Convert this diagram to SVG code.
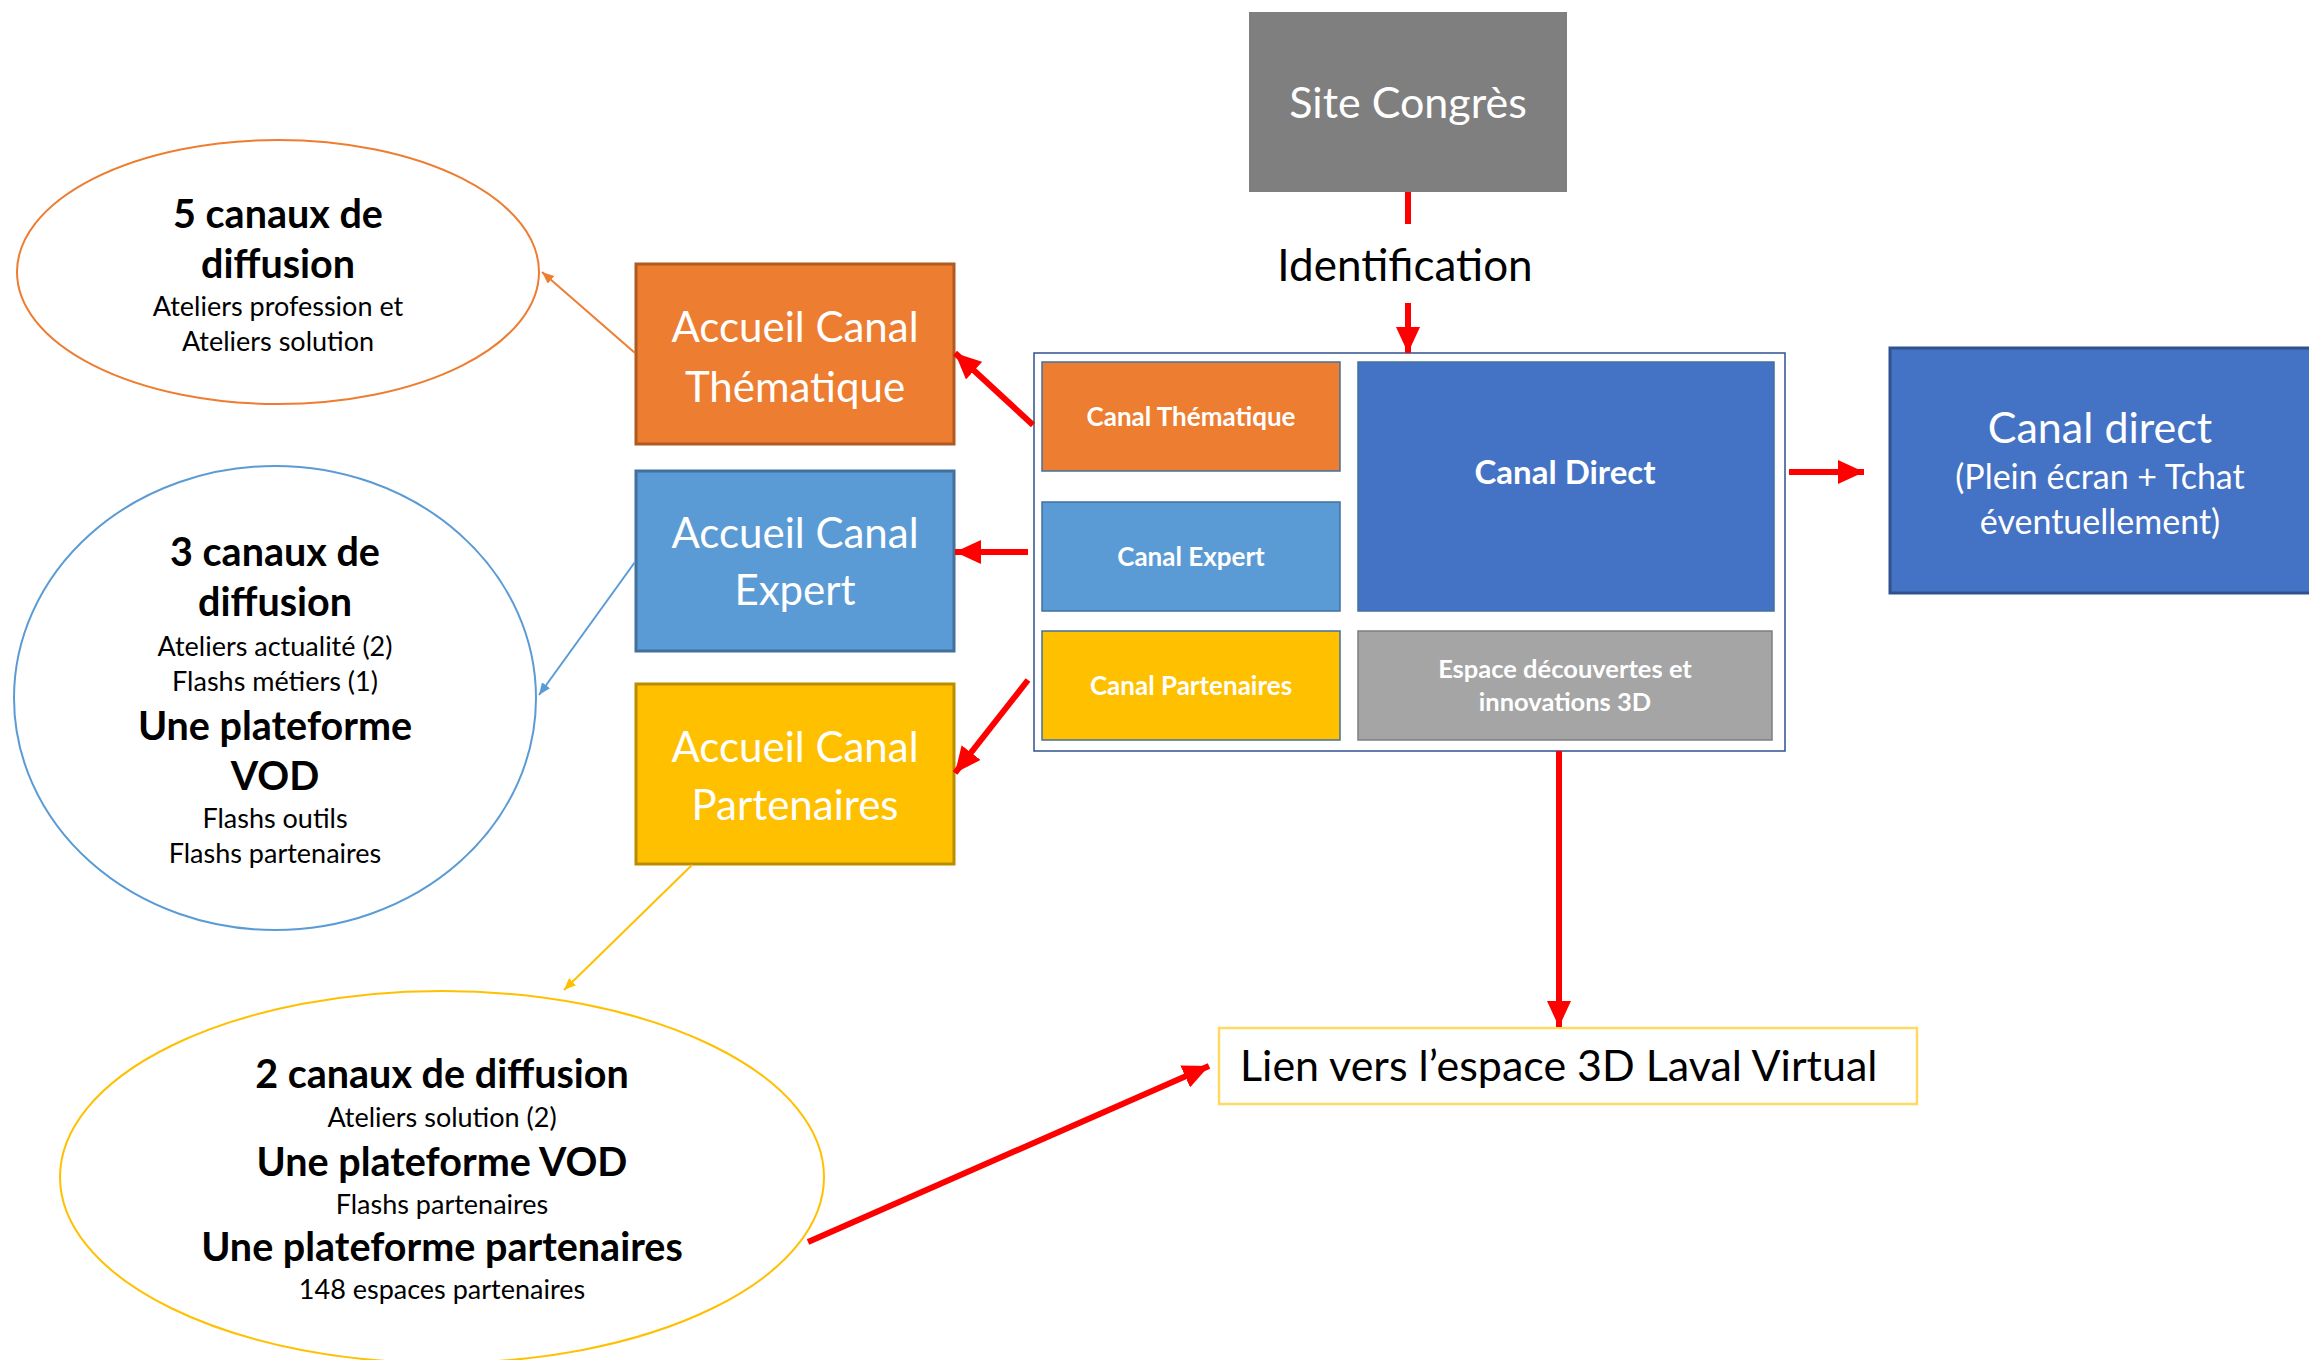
<svg xmlns="http://www.w3.org/2000/svg" width="2309" height="1360" viewBox="0 0 2309 1360">
<style>
.lt{font-family:Lato,"Open Sans","Liberation Sans",sans-serif;font-weight:400;fill:#fff;text-anchor:middle}
.bd{font-family:Lato,"Open Sans","Liberation Sans",sans-serif;font-weight:700;fill:#fff;text-anchor:middle}
.bk{font-family:Lato,"Open Sans","Liberation Sans",sans-serif;font-weight:700;fill:#000;text-anchor:middle;font-size:39.5px}
.sm{font-family:Lato,"Open Sans","Liberation Sans",sans-serif;font-weight:400;fill:#000;text-anchor:middle;font-size:27px}
.red{stroke:#ff0000;stroke-width:6;fill:none}
.inner{stroke:#41719c;stroke-width:1.5}
</style>
<defs>
<marker id="ah" markerUnits="userSpaceOnUse" markerWidth="26" markerHeight="24" refX="26" refY="12" orient="auto">
<path d="M0,0 L26,12 L0,24 z" fill="#ff0000"/>
</marker>
<marker id="aho" markerUnits="userSpaceOnUse" markerWidth="12" markerHeight="10" refX="12" refY="5" orient="auto">
<path d="M0,0 L12,5 L0,10 z" fill="#ed7d31"/>
</marker>
<marker id="ahb" markerUnits="userSpaceOnUse" markerWidth="12" markerHeight="10" refX="12" refY="5" orient="auto">
<path d="M0,0 L12,5 L0,10 z" fill="#5b9bd5"/>
</marker>
<marker id="ahy" markerUnits="userSpaceOnUse" markerWidth="12" markerHeight="10" refX="12" refY="5" orient="auto">
<path d="M0,0 L12,5 L0,10 z" fill="#ffc000"/>
</marker>
</defs>
<rect width="2309" height="1360" fill="#fff"/>

<g id="site-congres">
<rect x="1249" y="12" width="318" height="180" fill="#7f7f7f"/>
<text class="lt" x="1408" y="118" font-size="43">Site Congrès</text>
</g>

<g id="identification">
<text x="1405" y="281" font-size="44" font-family="Lato,'Open Sans','Liberation Sans',sans-serif" font-weight="400" text-anchor="middle" fill="#000">Identification</text>
</g>

<g id="container">
<rect x="1034" y="353" width="751" height="398" fill="#fff" stroke="#2f528f" stroke-width="1.5"/>
</g>

<g id="canal-thematique">
<rect class="inner" x="1042" y="362" width="298" height="109" fill="#ed7d31"/>
<text class="bd" x="1191" y="426" font-size="26">Canal Thématique</text>
</g>
<g id="canal-expert">
<rect class="inner" x="1042" y="502" width="298" height="109" fill="#5b9bd5"/>
<text class="bd" x="1191" y="566" font-size="26">Canal Expert</text>
</g>
<g id="canal-partenaires">
<rect class="inner" x="1042" y="631" width="298" height="109" fill="#ffc000"/>
<text class="bd" x="1191" y="695" font-size="26">Canal Partenaires</text>
</g>
<g id="canal-direct-inner">
<rect class="inner" x="1358" y="362" width="416" height="249" fill="#4472c4"/>
<text class="bd" x="1565" y="484" font-size="33">Canal Direct</text>
</g>
<g id="espace-decouvertes">
<rect x="1358" y="631" width="414" height="109" fill="#a5a5a5" stroke="#7f7f7f" stroke-width="1.5"/>
<text class="bd" x="1565" y="678" font-size="25.5">Espace découvertes et</text>
<text class="bd" x="1565" y="711" font-size="25.5">innovations 3D</text>
</g>

<g id="canal-direct">
<rect x="1890" y="348" width="440" height="245" fill="#4472c4" stroke="#2f528f" stroke-width="3"/>
<text class="lt" x="2100" y="443" font-size="43">Canal direct</text>
<text class="lt" x="2100" y="489" font-size="34">(Plein écran + Tchat</text>
<text class="lt" x="2100" y="534" font-size="34">éventuellement)</text>
</g>

<g id="accueil-thematique">
<rect x="636" y="264" width="318" height="180" fill="#ed7d31" stroke="#ae5a21" stroke-width="3"/>
<text class="lt" x="795" y="342" font-size="42">Accueil Canal</text>
<text class="lt" x="795" y="402" font-size="42">Thématique</text>
</g>
<g id="accueil-expert">
<rect x="636" y="471" width="318" height="180" fill="#5b9bd5" stroke="#41719c" stroke-width="3"/>
<text class="lt" x="795" y="548" font-size="42">Accueil Canal</text>
<text class="lt" x="795" y="605" font-size="42">Expert</text>
</g>
<g id="accueil-partenaires">
<rect x="636" y="684" width="318" height="180" fill="#ffc000" stroke="#bc8c00" stroke-width="3"/>
<text class="lt" x="795" y="762" font-size="42">Accueil Canal</text>
<text class="lt" x="795" y="820" font-size="42">Partenaires</text>
</g>

<g id="lien-3d">
<rect x="1219" y="1028" width="698" height="76" fill="#fff" stroke="#ffd966" stroke-width="2.5"/>
<text x="1240" y="1081" font-size="43" font-family="Lato,'Open Sans','Liberation Sans',sans-serif" font-weight="400" fill="#000">Lien vers l’espace 3D Laval Virtual</text>
</g>

<g id="ellipse-thematique">
<ellipse cx="278" cy="272" rx="261" ry="132" fill="#fff" stroke="#ed7d31" stroke-width="2"/>
<text class="bk" x="278" y="228">5 canaux de</text>
<text class="bk" x="278" y="278">diffusion</text>
<text class="sm" x="278" y="316">Ateliers profession et</text>
<text class="sm" x="278" y="351">Ateliers solution</text>
</g>

<g id="ellipse-expert">
<ellipse cx="275" cy="698" rx="261" ry="232" fill="#fff" stroke="#5b9bd5" stroke-width="2"/>
<text class="bk" x="275" y="566">3 canaux de</text>
<text class="bk" x="275" y="616">diffusion</text>
<text class="sm" x="275" y="656">Ateliers actualité (2)</text>
<text class="sm" x="275" y="691">Flashs métiers (1)</text>
<text class="bk" x="275" y="740">Une plateforme</text>
<text class="bk" x="275" y="790">VOD</text>
<text class="sm" x="275" y="828">Flashs outils</text>
<text class="sm" x="275" y="863">Flashs partenaires</text>
</g>

<g id="ellipse-partenaires">
<ellipse cx="442" cy="1177" rx="382" ry="186" fill="#fff" stroke="#ffc000" stroke-width="2"/>
<text class="bk" x="442" y="1088">2 canaux de diffusion</text>
<text class="sm" x="442" y="1127">Ateliers solution (2)</text>
<text class="bk" x="442" y="1176">Une plateforme VOD</text>
<text class="sm" x="442" y="1214">Flashs partenaires</text>
<text class="bk" x="442" y="1261">Une plateforme partenaires</text>
<text class="sm" x="442" y="1299">148 espaces partenaires</text>
</g>

<g id="connectors">
<line class="red" x1="1408" y1="192" x2="1408" y2="224"/>
<line class="red" x1="1408" y1="303" x2="1408" y2="353" marker-end="url(#ah)"/>
<line class="red" x1="1789" y1="472" x2="1864" y2="472" marker-end="url(#ah)"/>
<line class="red" x1="1033" y1="425" x2="955" y2="353" marker-end="url(#ah)"/>
<line class="red" x1="1028" y1="552" x2="955" y2="552" marker-end="url(#ah)"/>
<line class="red" x1="1028" y1="680" x2="955" y2="773" marker-end="url(#ah)"/>
<line class="red" x1="1559" y1="751" x2="1559" y2="1027" marker-end="url(#ah)"/>
<line class="red" x1="808" y1="1242" x2="1209" y2="1066" stroke-width="7" marker-end="url(#ah)"/>
<line x1="635" y1="353" x2="542" y2="272" stroke="#ed7d31" stroke-width="2" marker-end="url(#aho)"/>
<line x1="635" y1="562" x2="539" y2="695" stroke="#5b9bd5" stroke-width="2" marker-end="url(#ahb)"/>
<line x1="692" y1="865" x2="564" y2="990" stroke="#ffc000" stroke-width="2" marker-end="url(#ahy)"/>
</g>
</svg>
